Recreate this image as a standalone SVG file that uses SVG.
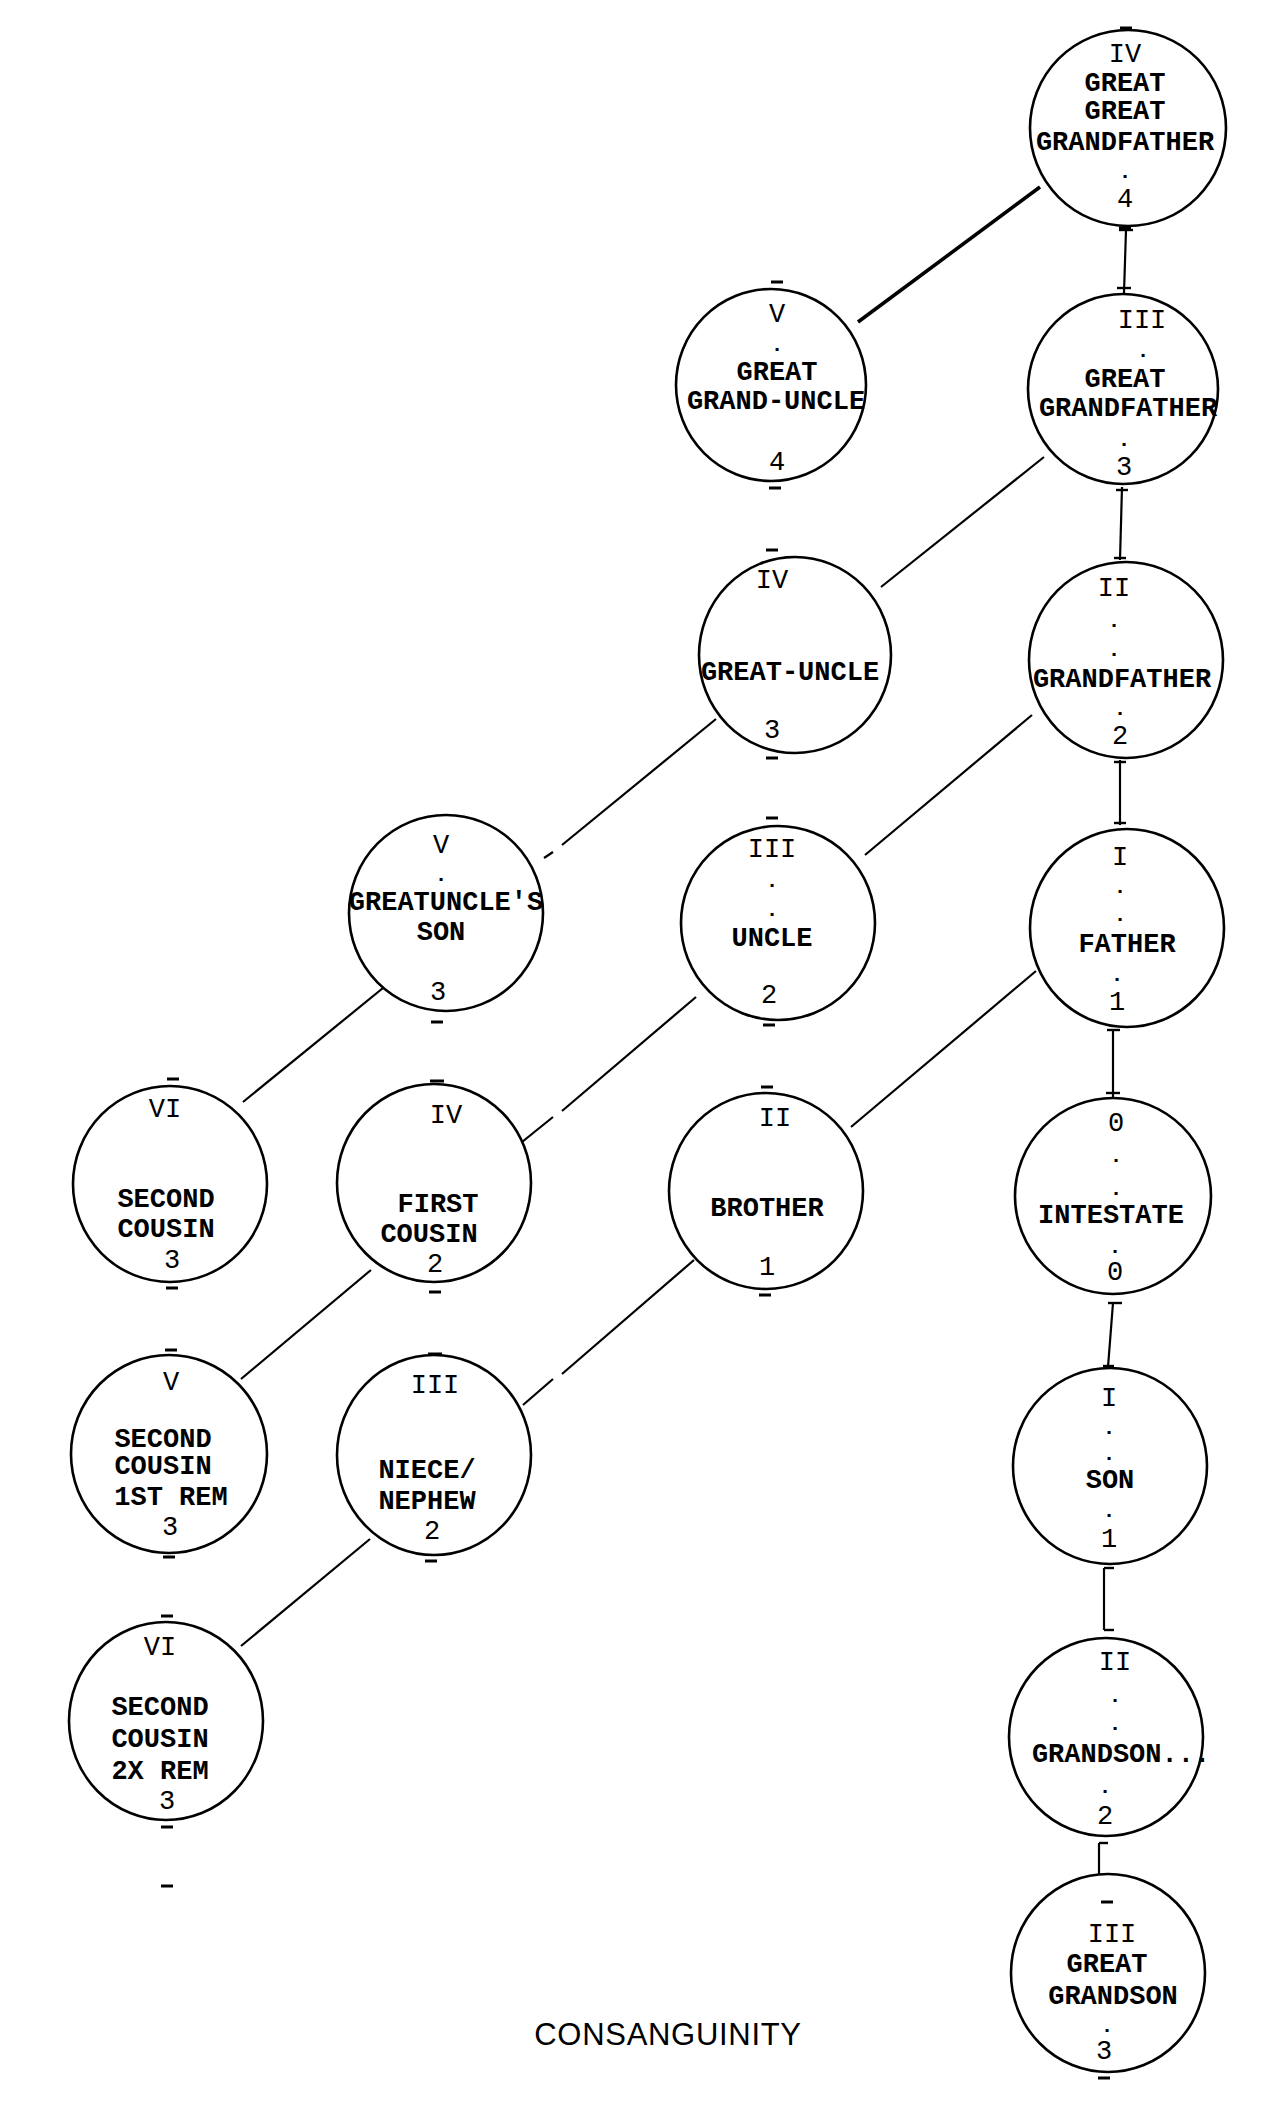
<svg xmlns="http://www.w3.org/2000/svg" width="1273" height="2101" viewBox="0 0 1273 2101">
<style>
.node ellipse{fill:none;stroke:#000;stroke-width:2.6}
.node text{font-family:"Liberation Mono","DejaVu Sans Mono",monospace;font-size:27px;fill:#000;text-anchor:middle}
.node text.b{font-weight:bold}
.node text.d{font-weight:bold;font-size:21px}
.tk line{stroke:#000;stroke-width:3}
#connectors line{stroke:#000;stroke-width:2.2;fill:none}
#connectors line.thick{stroke-width:3.6}
#connectors line.bar{stroke-width:2.4}
.title{font-family:"Liberation Sans",Arial,sans-serif;font-size:31px;fill:#000;text-anchor:middle;letter-spacing:0.7px}
</style>
<rect width="1273" height="2101" fill="#fff"/>

<g id="connectors">
  <line class="thick" x1="1040" y1="187" x2="858" y2="322"/>
  <line x1="1126" y1="230" x2="1124" y2="293"/>
  <line class="bar" x1="1119" y1="230" x2="1133" y2="230"/>
  <line class="bar" x1="1117" y1="288" x2="1131" y2="288"/>
  <line x1="1044" y1="457" x2="881" y2="587"/>
  <line x1="1122" y1="487" x2="1120" y2="560"/>
  <line class="bar" x1="1116" y1="490" x2="1128" y2="490"/>
  <line class="bar" x1="1114" y1="558" x2="1126" y2="558"/>
  <line x1="1032" y1="715" x2="865" y2="855"/>
  <line x1="716" y1="719" x2="562" y2="845"/>
  <line x1="553" y1="852" x2="544" y2="858"/>
  <line x1="1120" y1="760" x2="1120" y2="825"/>
  <line class="bar" x1="1114" y1="762" x2="1126" y2="762"/>
  <line class="bar" x1="1114" y1="823" x2="1126" y2="823"/>
  <line x1="383" y1="988" x2="243" y2="1102"/>
  <line x1="696" y1="997" x2="562" y2="1111"/>
  <line x1="553" y1="1117" x2="522" y2="1142"/>
  <line x1="1036" y1="971" x2="851" y2="1127"/>
  <line x1="1113" y1="1030" x2="1113" y2="1099"/>
  <line class="bar" x1="1107" y1="1030" x2="1120" y2="1030"/>
  <line class="bar" x1="1106" y1="1093" x2="1120" y2="1093"/>
  <line x1="371" y1="1270" x2="241" y2="1379"/>
  <line x1="694" y1="1260" x2="562" y2="1374"/>
  <line x1="553" y1="1379" x2="523" y2="1405"/>
  <line x1="1113" y1="1303" x2="1108" y2="1367"/>
  <line class="bar" x1="1108" y1="1303" x2="1122" y2="1303"/>
  <line class="bar" x1="1103" y1="1366" x2="1114" y2="1366"/>
  <line x1="370" y1="1539" x2="241" y2="1646"/>
  <line x1="1104" y1="1568" x2="1104" y2="1630"/>
  <line class="bar" x1="1104" y1="1568" x2="1114" y2="1568"/>
  <line class="bar" x1="1104" y1="1630" x2="1114" y2="1630"/>
  <line x1="1099" y1="1843" x2="1099" y2="1875"/>
  <line class="bar" x1="1099" y1="1843" x2="1108" y2="1843"/>
</g>

<g id="n-great-great-grandfather" class="node">
  <ellipse cx="1128" cy="128" rx="98" ry="98"/>
  <text x="1125" y="62">IV</text>
  <text class="b" x="1125" y="91">GREAT</text>
  <text class="b" x="1125" y="119">GREAT</text>
  <text class="b" x="1125" y="150">GRANDFATHER</text>
  <text class="d" x="1125" y="178">.</text>
  <text x="1125" y="207">4</text>
  <g class="tk"><line x1="1120" y1="28" x2="1132" y2="28"/><line x1="1119" y1="228" x2="1131" y2="228"/></g>
</g>

<g id="n-great-grand-uncle" class="node">
  <ellipse cx="771" cy="385" rx="95" ry="96"/>
  <text x="777" y="322">V</text>
  <text class="d" x="777" y="351">.</text>
  <text class="b" x="777" y="380">GREAT</text>
  <text class="b" x="776" y="409">GRAND-UNCLE</text>
  <text x="777" y="470">4</text>
  <g class="tk"><line x1="771" y1="282" x2="783" y2="282"/><line x1="769" y1="488" x2="781" y2="488"/></g>
</g>

<g id="n-great-grandfather" class="node">
  <ellipse cx="1123" cy="389" rx="95" ry="95"/>
  <text x="1142" y="328">III</text>
  <text class="d" x="1143" y="357">.</text>
  <text class="b" x="1125" y="387">GREAT</text>
  <text class="b" x="1128" y="416">GRANDFATHER</text>
  <text class="d" x="1124" y="446">.</text>
  <text x="1124" y="475">3</text>
</g>

<g id="n-great-uncle" class="node">
  <ellipse cx="795" cy="655" rx="96" ry="98"/>
  <text x="772" y="588">IV</text>
  <text class="b" x="790" y="680">GREAT-UNCLE</text>
  <text x="772" y="738">3</text>
  <g class="tk"><line x1="766" y1="550" x2="778" y2="550"/><line x1="766" y1="758" x2="778" y2="758"/></g>
</g>

<g id="n-grandfather" class="node">
  <ellipse cx="1126" cy="660" rx="97" ry="98"/>
  <text x="1114" y="596">II</text>
  <text class="d" x="1114" y="627">.</text>
  <text class="d" x="1114" y="656">.</text>
  <text class="b" x="1122" y="687">GRANDFATHER</text>
  <text class="d" x="1120" y="715">.</text>
  <text x="1120" y="744">2</text>
</g>

<g id="n-greatuncles-son" class="node">
  <ellipse cx="446" cy="913" rx="97" ry="98"/>
  <text x="441" y="853">V</text>
  <text class="d" x="441" y="881">.</text>
  <text class="b" x="446" y="910">GREATUNCLE'S</text>
  <text class="b" x="441" y="940">SON</text>
  <text x="438" y="1000">3</text>
  <g class="tk"><line x1="431" y1="1022" x2="443" y2="1022"/></g>
</g>

<g id="n-uncle" class="node">
  <ellipse cx="778" cy="923" rx="97" ry="97"/>
  <text x="772" y="857">III</text>
  <text class="d" x="772" y="887">.</text>
  <text class="d" x="772" y="916">.</text>
  <text class="b" x="772" y="946">UNCLE</text>
  <text x="769" y="1003">2</text>
  <g class="tk"><line x1="766" y1="818" x2="778" y2="818"/><line x1="763" y1="1025" x2="775" y2="1025"/></g>
</g>

<g id="n-father" class="node">
  <ellipse cx="1127" cy="928" rx="97" ry="99"/>
  <text x="1120" y="865">I</text>
  <text class="d" x="1120" y="893">.</text>
  <text class="d" x="1120" y="921">.</text>
  <text class="b" x="1127" y="952">FATHER</text>
  <text class="d" x="1117" y="981">.</text>
  <text x="1117" y="1010">1</text>
</g>

<g id="n-second-cousin" class="node">
  <ellipse cx="170" cy="1184" rx="97" ry="98"/>
  <text x="165" y="1117">VI</text>
  <text class="b" x="166" y="1207">SECOND</text>
  <text class="b" x="166" y="1237">COUSIN</text>
  <text x="172" y="1268">3</text>
  <g class="tk"><line x1="167" y1="1079" x2="179" y2="1079"/><line x1="166" y1="1288" x2="178" y2="1288"/></g>
</g>

<g id="n-first-cousin" class="node">
  <ellipse cx="434" cy="1183" rx="97" ry="99"/>
  <text x="446" y="1123">IV</text>
  <text class="b" x="438" y="1212">FIRST</text>
  <text class="b" x="429" y="1242">COUSIN</text>
  <text x="435" y="1272">2</text>
  <g class="tk"><line x1="430" y1="1081" x2="444" y2="1081"/><line x1="429" y1="1292" x2="441" y2="1292"/></g>
</g>

<g id="n-brother" class="node">
  <ellipse cx="766" cy="1191" rx="97" ry="98"/>
  <text x="775" y="1126">II</text>
  <text class="b" x="767" y="1216">BROTHER</text>
  <text x="767" y="1275">1</text>
  <g class="tk"><line x1="761" y1="1087" x2="773" y2="1087"/><line x1="759" y1="1295" x2="771" y2="1295"/></g>
</g>

<g id="n-intestate" class="node">
  <ellipse cx="1113" cy="1196" rx="98" ry="98"/>
  <text x="1116" y="1131">0</text>
  <text class="d" x="1116" y="1162">.</text>
  <text class="d" x="1116" y="1195">.</text>
  <text class="b" x="1111" y="1223">INTESTATE</text>
  <text class="d" x="1115" y="1253">.</text>
  <text x="1115" y="1280">0</text>
</g>

<g id="n-second-cousin-1st-rem" class="node">
  <ellipse cx="169" cy="1454" rx="98" ry="99"/>
  <text x="171" y="1390">V</text>
  <text class="b" x="163" y="1447">SECOND</text>
  <text class="b" x="163" y="1474">COUSIN</text>
  <text class="b" x="171" y="1505">1ST REM</text>
  <text x="170" y="1535">3</text>
  <g class="tk"><line x1="165" y1="1350" x2="177" y2="1350"/><line x1="163" y1="1557" x2="175" y2="1557"/></g>
</g>

<g id="n-niece-nephew" class="node">
  <ellipse cx="434" cy="1455" rx="97" ry="100"/>
  <text x="435" y="1393">III</text>
  <text class="b" x="427" y="1478">NIECE/</text>
  <text class="b" x="427" y="1509">NEPHEW</text>
  <text x="432" y="1539">2</text>
  <g class="tk"><line x1="428" y1="1354" x2="442" y2="1354"/><line x1="425" y1="1561" x2="437" y2="1561"/></g>
</g>

<g id="n-son" class="node">
  <ellipse cx="1110" cy="1466" rx="97" ry="98"/>
  <text x="1109" y="1406">I</text>
  <text class="d" x="1109" y="1434">.</text>
  <text class="d" x="1109" y="1460">.</text>
  <text class="b" x="1110" y="1488">SON</text>
  <text class="d" x="1109" y="1517">.</text>
  <text x="1109" y="1547">1</text>
</g>

<g id="n-second-cousin-2x-rem" class="node">
  <ellipse cx="166" cy="1721" rx="97" ry="99"/>
  <text x="160" y="1655">VI</text>
  <text class="b" x="160" y="1715">SECOND</text>
  <text class="b" x="160" y="1747">COUSIN</text>
  <text class="b" x="160" y="1779">2X REM</text>
  <text x="167" y="1809">3</text>
  <g class="tk"><line x1="161" y1="1616" x2="173" y2="1616"/><line x1="161" y1="1827" x2="173" y2="1827"/><line x1="161" y1="1886" x2="173" y2="1886"/></g>
</g>

<g id="n-grandson" class="node">
  <ellipse cx="1106" cy="1737" rx="97" ry="99"/>
  <text x="1115" y="1670">II</text>
  <text class="d" x="1115" y="1702">.</text>
  <text class="d" x="1115" y="1730">.</text>
  <text class="b" x="1121" y="1762">GRANDSON...</text>
  <text class="d" x="1105" y="1793">.</text>
  <text x="1105" y="1824">2</text>
</g>

<g id="n-great-grandson" class="node">
  <ellipse cx="1108" cy="1973" rx="97" ry="99"/>
  <text x="1112" y="1942">III</text>
  <text class="b" x="1107" y="1972">GREAT</text>
  <text class="b" x="1113" y="2004">GRANDSON</text>
  <text class="d" x="1107" y="2032">.</text>
  <text x="1104" y="2059">3</text>
  <g class="tk"><line x1="1101" y1="1902" x2="1113" y2="1902"/><line x1="1098" y1="2078" x2="1110" y2="2078"/></g>
</g>

<text class="title" x="668" y="2045">CONSANGUINITY</text>
</svg>
